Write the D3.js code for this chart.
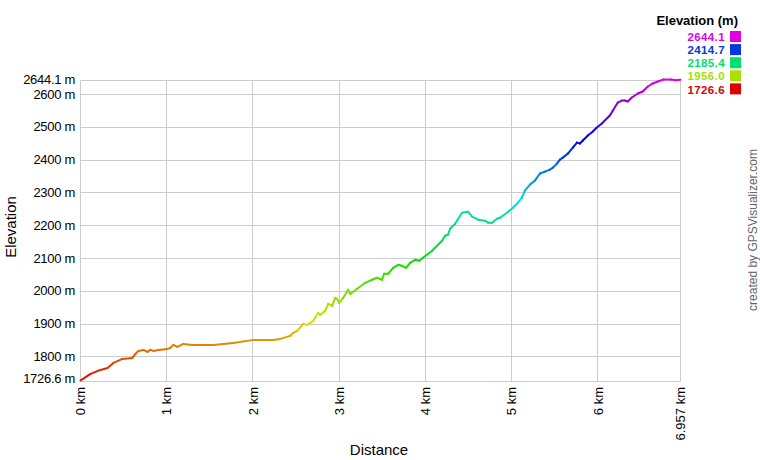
<!DOCTYPE html>
<html>
<head>
<meta charset="utf-8">
<script src="https://cdn.jsdelivr.net/npm/d3@7"></script>
<style>
  html, body { margin: 0; padding: 0; background: #fff; }
  svg { display: block; font-family: "Liberation Sans", Arial, sans-serif; }
</style>
</head>
<body>
<svg id="chart" width="760" height="460"></svg>
<script>
// ---- data ----
const distanceKm = [
  0, 0.116, 0.232, 0.313, 0.382, 0.486, 0.602, 0.637, 0.672, 0.730, 0.776, 0.811, 0.845, 0.903,
  1.008, 1.042, 1.077, 1.123, 1.193, 1.297, 1.540, 1.772, 2.003, 2.235, 2.316, 2.432, 2.467, 2.513,
  2.583, 2.629, 2.698, 2.721, 2.756, 2.779, 2.837, 2.872, 2.918, 2.953, 2.976, 2.999, 3.046, 3.104,
  3.127, 3.208, 3.301, 3.382, 3.439, 3.497, 3.521, 3.567, 3.625, 3.683, 3.729, 3.775, 3.822, 3.880,
  3.926, 3.972, 4.076, 4.192, 4.227, 4.262, 4.285, 4.343, 4.424, 4.493, 4.540, 4.609, 4.690, 4.725,
  4.771, 4.829, 4.864, 4.945, 5.014, 5.072, 5.119, 5.153, 5.211, 5.269, 5.327, 5.385, 5.443, 5.478,
  5.524, 5.559, 5.593, 5.651, 5.709, 5.756, 5.791, 5.825, 5.883, 5.941, 5.987, 6.045, 6.138, 6.173,
  6.230, 6.277, 6.312, 6.346, 6.393, 6.462, 6.520, 6.578, 6.636, 6.694, 6.760, 6.850, 6.900, 6.957
];
const elevationM = [
  1726.6, 1746.6, 1758.8, 1764.9, 1780.2, 1792.4, 1795.4, 1807.6, 1816.8, 1819.8, 1813.7, 1819.8, 1816.8, 1819.8,
  1822.9, 1826.0, 1835.1, 1829.0, 1838.2, 1835.1, 1835.1, 1841.2, 1850.4, 1850.4, 1853.4, 1862.6, 1871.7, 1877.8,
  1899.2, 1896.2, 1908.4, 1917.5, 1932.8, 1926.7, 1938.9, 1960.3, 1954.2, 1978.6, 1975.5, 1963.3, 1978.6, 2003.0,
  1990.8, 2006.1, 2024.4, 2033.6, 2039.7, 2033.6, 2051.9, 2051.9, 2070.2, 2079.3, 2076.3, 2070.2, 2085.5, 2094.6,
  2091.6, 2100.7, 2122.1, 2152.6, 2167.9, 2170.9, 2189.3, 2204.5, 2238.1, 2241.2, 2225.9, 2216.7, 2213.7, 2207.6,
  2207.6, 2219.8, 2222.8, 2238.1, 2253.4, 2268.6, 2283.9, 2305.3, 2323.6, 2335.8, 2357.7, 2363.3, 2369.4, 2375.5,
  2387.7, 2399.9, 2406.0, 2418.2, 2436.6, 2451.8, 2448.8, 2458.0, 2473.2, 2485.4, 2497.6, 2509.8, 2534.2, 2549.5,
  2573.9, 2580.0, 2580.0, 2577.0, 2589.2, 2601.4, 2607.5, 2622.8, 2632.0, 2638.1, 2644.1, 2644.1, 2641.5, 2643.0
];
const elevationMin = 1726.6;
const elevationMax = 2644.1;
const distanceMax = 6.957;
const yTickValues = [1800, 1900, 2000, 2100, 2200, 2300, 2400, 2500, 2600];
const xTickValues = [0, 1, 2, 3, 4, 5, 6];
const legendValues = [2644.1, 2414.7, 2185.4, 1956.0, 1726.6];

// ---- layout ----
const svg = d3.select("#chart");
const plot = { left: 80, right: 680, top: 80, bottom: 380 };

const x = d3.scaleLinear().domain([0, distanceMax]).range([plot.left + 0.5, plot.right + 0.5]);
const y = d3.scaleLinear().domain([elevationMin, elevationMax]).range([plot.bottom + 0.5, plot.top - 0.5]);

// colour: hue 0 (red) at min -> 300 (magenta) at max
const hue = d3.scaleLinear().domain([elevationMin, elevationMax]).range([0, 300]);
const colorOf = v => d3.hsl(hue(v), 1, 0.439).formatHex();

const gridColor = "#cccccc";

// grid lines
const g = svg.append("g");
g.selectAll("line.hgrid").data(yTickValues.concat([elevationMin, elevationMax])).enter().append("line")
  .attr("x1", plot.left + 0.5).attr("x2", plot.right + 0.5)
  .attr("y1", d => Math.round(y(d)) + 0.5).attr("y2", d => Math.round(y(d)) + 0.5)
  .attr("stroke", gridColor).attr("stroke-width", 1);
g.selectAll("line.vgrid").data(xTickValues.concat([distanceMax])).enter().append("line")
  .attr("y1", Math.round(y(elevationMax)) + 0.5).attr("y2", Math.round(y(elevationMin)) + 0.5)
  .attr("x1", d => Math.round(x(d) - 0.5) + 0.5).attr("x2", d => Math.round(x(d) - 0.5) + 0.5)
  .attr("stroke", gridColor).attr("stroke-width", 1);

// y tick labels
const yLabels = yTickValues.map(v => ({ v, t: v + " m" }))
  .concat([{ v: elevationMax, t: elevationMax.toFixed(1) + " m" }, { v: elevationMin, t: elevationMin.toFixed(1) + " m", up: true }]);
svg.append("g").selectAll("text").data(yLabels).enter().append("text")
  .attr("x", 75).attr("y", d => y(d.v) + (d.up ? -2 : 0))
  .attr("dy", "0.35em").attr("text-anchor", "end")
  .attr("font-size", 13).attr("fill", "#000").attr("letter-spacing", "-0.3")
  .text(d => d.t);

// x tick labels (rotated)
const xLabels = xTickValues.map(v => ({ v, t: v + " km" })).concat([{ v: distanceMax, t: distanceMax.toFixed(3) + " km" }]);
svg.append("g").selectAll("text").data(xLabels).enter().append("text")
  .attr("transform", d => `translate(${x(d.v)},387) rotate(-90)`)
  .attr("dy", "0.35em").attr("text-anchor", "end")
  .attr("font-size", 13).attr("fill", "#000")
  .text(d => d.t);

// axis titles
svg.append("text").attr("x", 379).attr("y", 455).attr("text-anchor", "middle")
  .attr("font-size", 15).attr("fill", "#000").text("Distance");
svg.append("text").attr("transform", "translate(16,227) rotate(-90)").attr("text-anchor", "middle")
  .attr("font-size", 15).attr("fill", "#000").text("Elevation");

// credit
svg.append("text").attr("transform", "translate(757,230) rotate(-90)").attr("text-anchor", "middle")
  .attr("font-size", 12).attr("fill", "#666").text("created by GPSVisualizer.com");

// elevation profile as coloured segments
const pts = distanceKm.map((d, i) => ({ d, e: elevationM[i] }));
const segs = d3.pairs(pts);
svg.append("g").selectAll("line").data(segs).enter().append("line")
  .attr("x1", s => x(s[0].d)).attr("y1", s => y(s[0].e))
  .attr("x2", s => x(s[1].d)).attr("y2", s => y(s[1].e))
  .attr("stroke", s => colorOf((s[0].e + s[1].e) / 2))
  .attr("stroke-width", 2).attr("stroke-linecap", "round");

// legend
svg.append("text").attr("x", 738).attr("y", 25).attr("text-anchor", "end")
  .attr("font-size", 13).attr("font-weight", "bold").attr("fill", "#000").text("Elevation (m)");
const leg = svg.append("g").selectAll("g").data(legendValues).enter().append("g");
leg.append("rect").attr("x", 730).attr("y", (d, i) => 31 + i * 13.1)
  .attr("width", 11).attr("height", 11).attr("fill", d => colorOf(d));
leg.append("text").attr("x", 725).attr("y", (d, i) => 40.5 + i * 13.3)
  .attr("text-anchor", "end").attr("font-size", 11.5).attr("font-weight", "bold")
  .attr("letter-spacing", "0.4")
  .attr("fill", d => colorOf(d)).text(d => d.toFixed(1));
</script>
</body>
</html>
